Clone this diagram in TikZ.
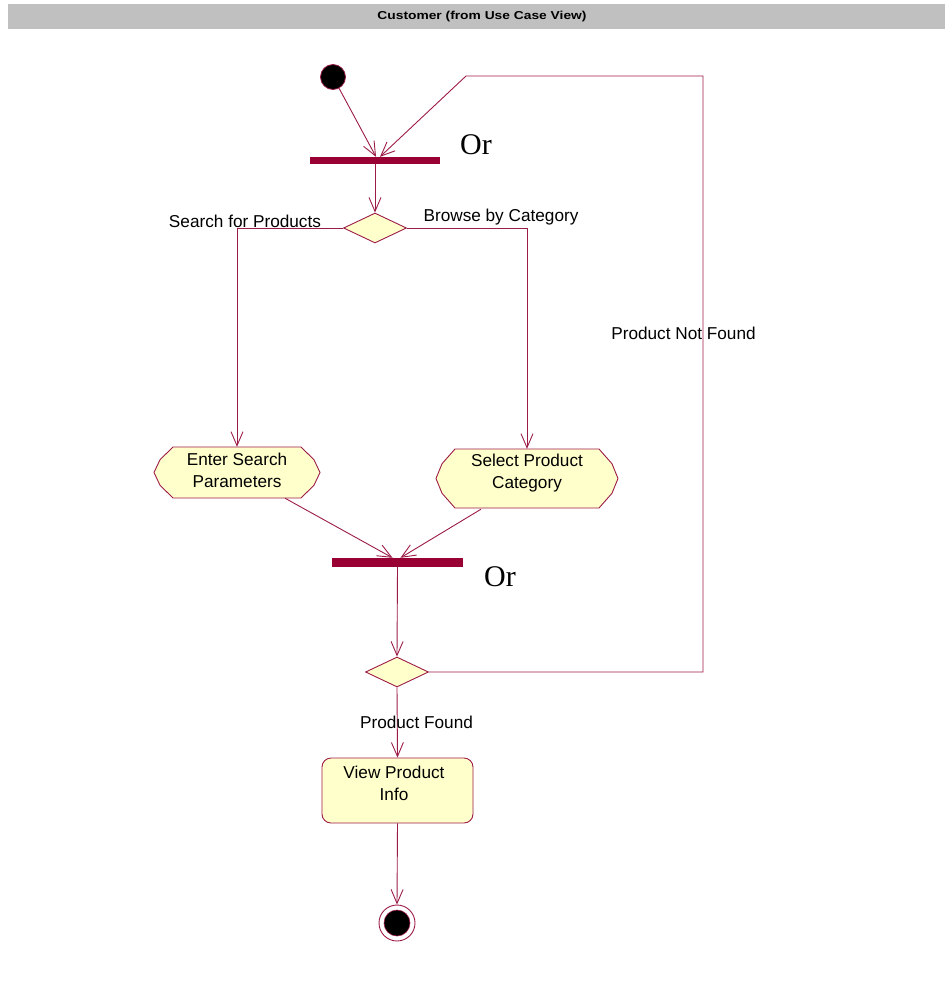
\documentclass[tikz,border=0pt]{standalone}
\usepackage{fontspec}
\setmainfont{Liberation Sans}
\newfontfamily\orfont{Liberation Serif}
\usetikzlibrary{arrows.meta,calc,shapes.geometric}
\definecolor{rose}{HTML}{990033}
\definecolor{roseline}{HTML}{9C1C48}
\definecolor{stfill}{HTML}{FFFFCC}
\definecolor{hdrgray}{HTML}{C0C0C0}
\tikzset{
  conn/.style={draw=roseline, line width=0.9pt, -{Straight Barb[length=14pt,width=12pt,line width=0.9pt]}},
  plainline/.style={draw=roseline, line width=0.9pt},
  syncbar/.style={draw=none, fill=rose, rectangle, inner sep=0pt},
  decis/.style={diamond, draw=roseline, line width=0.9pt, fill=stfill, inner sep=0pt, minimum width=63pt, minimum height=30pt, aspect=2.1},
  lbl/.style={font=\fontsize{17.2}{20}\selectfont, inner sep=0pt},
  ortext/.style={font=\orfont\fontsize{30}{34}\selectfont, inner sep=0pt},
  acttext/.style={font=\fontsize{17.2}{22}\selectfont, align=center, inner sep=0pt, rectangle},
}
% name, x, y, half width, half height, text y, text
\newcommand\actstate[7]{%
  \draw[plainline, fill=stfill]
    (#2-#4+19,#3-#5) -- (#2+#4-19,#3-#5) -- (#2+#4-6,#3-#5*0.5) -- (#2+#4,#3)
    -- (#2+#4-6,#3+#5*0.5) -- (#2+#4-19,#3+#5) -- (#2-#4+19,#3+#5)
    -- (#2-#4+6,#3+#5*0.5) -- (#2-#4,#3) -- (#2-#4+6,#3-#5*0.5) -- cycle;
  \node[rectangle, inner sep=0pt, minimum width=2*#4, minimum height=2*#5] (#1) at (#2,#3) {};
  \node[acttext] (#1t) at (#2,#6) {#7};
}
\begin{document}
\begin{tikzpicture}[x=1pt, y=-1pt]
\useasboundingbox (0,0) rectangle (945,991);
\fill[white] (0,0) rectangle (945,991);
% header
\node[draw=none, fill=hdrgray, minimum width=937pt, minimum height=25pt, inner sep=0pt] (hdr) at (476.5,16.5) {};
\node[font=\bfseries\fontsize{11.5}{13}\selectfont, inner sep=0pt] (hdrtext) at (482,16.5) {\scalebox{1.2}[1]{Customer (from Use Case View)}};

% start
\node[circle, draw=roseline, line width=0.8pt, fill=black, minimum size=25pt, inner sep=0pt] (start) at (333,77) {};
% bar 1
\node[syncbar, minimum width=130pt, minimum height=7pt] (bar1) at (375,160.5) {};
\node[ortext] (or1) at (476,145) {Or};
% decision 1
\node[decis] (d1) at (375,228) {};
% activities
\actstate{esp}{237}{472.5}{83}{25.5}{470}{Enter Search\\Parameters}
\actstate{spc}{527}{478.5}{91}{29.5}{473.5}{Select Product\\Category}
% bar 2
\node[syncbar, minimum width=131pt, minimum height=9pt] (bar2) at (397.5,562.5) {};
\node[ortext] (or2) at (500,577) {Or};
% decision 2
\node[decis] (d2) at (397,672) {};
% view product info
\node[draw=roseline, line width=0.9pt, fill=stfill, rounded corners=9pt, minimum width=151pt, minimum height=65pt, inner sep=0pt, rectangle] (vpi) at (397.5,790.5) {};
\node[acttext] (vpit) at (394,783) {View Product\\Info};
% final
\node[circle, draw=roseline, line width=0.9pt, fill=white, minimum size=36pt, inner sep=0pt] (final) at (397,923) {};
\node[circle, draw=roseline, line width=0.6pt, fill=black, minimum size=26pt, inner sep=0pt] (finalin) at (final.center) {};

% coordinates
\coordinate (b1in1) at ($(bar1.north)+(1,0)$);
\coordinate (b1in2) at ($(bar1.north)+(5,0)$);
\coordinate (loopA) at (703,672);
\coordinate (loopB) at (703,76);
\coordinate (loopC) at (466,76);
\coordinate (espout) at ($(esp.south)+(48,0)$);
\coordinate (spcout) at ($(spc.south)+(-46,1)$);
\coordinate (b2in1) at ($(bar2.north)+(-5,0)$);
\coordinate (b2in2) at ($(bar2.north)+(3,0)$);

% connectors
\draw[conn] (start) -- (b1in1);
\draw[conn] (d2.east) -- (loopA) -- (loopB) -- (loopC) -- (b1in2);
\draw[conn] (bar1.south) -- (d1.north);
\draw[conn] (d1.west) -| (esp.north);
\draw[conn] (d1.east) -| (spc.north);
\draw[conn] (espout) -- (b2in1);
\draw[conn] (spcout) -- (b2in2);
\draw[conn] (bar2.south) -- (d2.north);
\draw[conn] (d2.south) -- (vpi.north);
\draw[conn] (vpi.south) -- (final.north);

% labels
\node[lbl] (l1) at (245,221) {Search for Products};
\node[lbl] (l2) at (501,217) {Browse by Category};
\node[lbl] (l3) at (683.5,333) {Product Not Found};
\node[lbl] (l4) at (416.5,722) {Product Found};
\end{tikzpicture}
\end{document}
